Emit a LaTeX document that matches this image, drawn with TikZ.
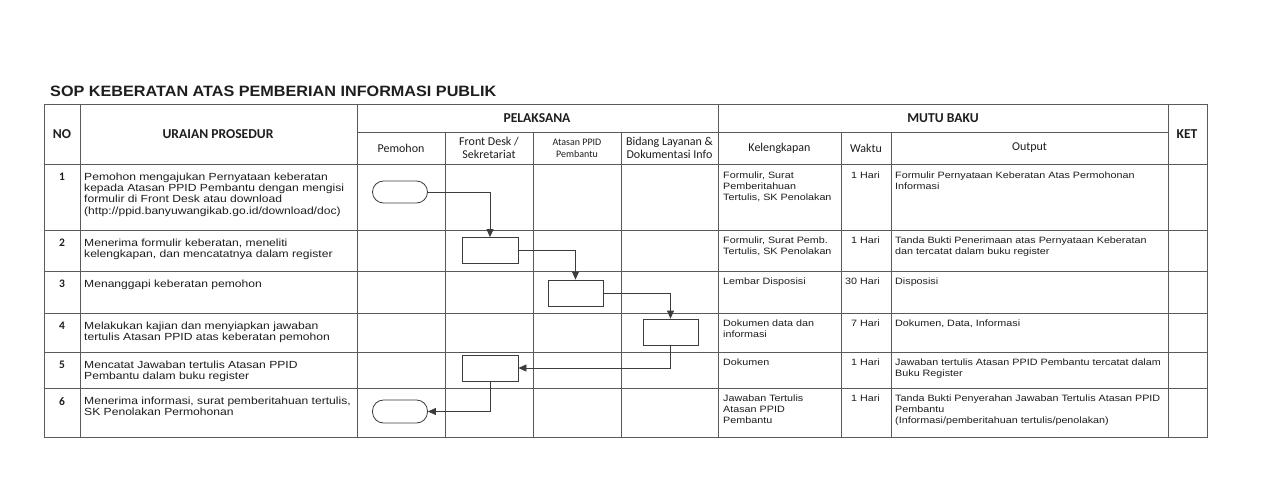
\documentclass[tikz,border=0pt]{standalone}
\usepackage{fontspec}
\setmainfont{Liberation Sans}
\newfontfamily\bodyf[FakeStretch=1.17]{Liberation Sans}
\newfontfamily\titlef[FakeStretch=1.08]{Liberation Sans}
\newfontfamily\headf{Carlito}
\usetikzlibrary{arrows.meta}
\definecolor{ink}{HTML}{1E1E1E}
\definecolor{rule}{HTML}{5A5A5A}
\definecolor{flowc}{HTML}{3C3C3C}
\begin{document}
\begin{tikzpicture}[x=1pt,y=-1pt,
  tline/.style={draw=rule, line width=0.9pt},
  body/.style={anchor=north west, inner sep=0pt, align=left, text=ink,
    font=\bodyf\fontsize{10.35}{11.1}\selectfont},
  small/.style={anchor=north west, inner sep=0pt, align=left, text=ink,
    font=\bodyf\fontsize{9.2}{11}\selectfont},
  waktu/.style={anchor=north east, inner sep=0pt, align=right, text=ink,
    font=\bodyf\fontsize{9.2}{11}\selectfont},
  num/.style={anchor=north, inner sep=0pt, text=ink,
    font=\headf\bfseries\fontsize{11.5}{12}\selectfont},
  hbold/.style={inner sep=0pt, text=ink, align=center,
    font=\headf\bfseries\fontsize{13.6}{14}\selectfont},
  hreg/.style={inner sep=0pt, text=ink, align=center,
    font=\headf\fontsize{12}{13.5}\selectfont},
  hsmall/.style={inner sep=0pt, text=ink, align=center,
    font=\headf\fontsize{10}{12}\selectfont},
  procbox/.style={draw=flowc, line width=0.8pt, rectangle, inner sep=0pt,
    minimum width=56pt, minimum height=26pt},
  termbox/.style={draw=flowc, line width=0.8pt, rectangle, rounded corners=11pt,
    inner sep=0pt, minimum width=55pt, minimum height=22pt},
  flow/.style={draw=flowc, line width=0.8pt, -{Triangle[length=8pt,width=7pt]}}
]
\fill[white] (0,0) rectangle (1280,485);
\useasboundingbox (0,0) rectangle (1280,485);

% title
\node[anchor=base west, inner sep=0pt, text=ink, font=\titlef\bfseries\fontsize{15}{16}\selectfont]
  (title) at (50,96) {SOP KEBERATAN ATAS PEMBERIAN INFORMASI PUBLIK};

% table grid
\draw[tline] (44,104) rectangle (1207,437);
\draw[tline] (357,132) -- (1168,132);
\foreach \y in {164,230,271,313,352,388} \draw[tline] (44,\y) -- (1207,\y);
\foreach \x in {80,357,718,1168} \draw[tline] (\x,104) -- (\x,437);
\foreach \x in {445,533,621,841,891} \draw[tline] (\x,132) -- (\x,437);

% header
\node[hbold] (hno) at (62,134) {NO};
\node[hbold] (hur) at (218,134) {URAIAN PROSEDUR};
\node[hbold] (hpel) at (537,118) {PELAKSANA};
\node[hbold] (hmutu) at (943,118) {MUTU BAKU};
\node[hbold] (hket) at (1187,134) {KET};
\node[hreg] (hpem) at (401,148) {Pemohon};
\node[hreg] (hfd) at (489,148) {Front Desk /\\Sekretariat};
\node[hsmall] (hat) at (577,148) {Atasan PPID\\Pembantu};
\node[hreg] (hbid) at (669.5,148) {Bidang Layanan \&\\Dokumentasi Info};
\node[hreg] (hkel) at (779.5,148) {Kelengkapan};
\node[hreg] (hwak) at (866,148) {Waktu};
\node[hreg] (hout) at (1029.5,148) {Output};

% numbers
\node[num] (n1) at (62,173) {1};
\node[num] (n2) at (62,239) {2};
\node[num] (n3) at (62,280) {3};
\node[num] (n4) at (62,322) {4};
\node[num] (n5) at (62,361) {5};
\node[num] (n6) at (62,397) {6};

% procedure text
\node[body] (t1) at (84,173) {Pemohon mengajukan Pernyataan keberatan\\kepada Atasan PPID Pembantu dengan mengisi\\formulir di Front Desk atau download\\(http://ppid.banyuwangikab.go.id/download/doc)};
\node[body] (t2) at (84,239) {Menerima formulir keberatan, meneliti\\kelengkapan, dan mencatatnya dalam register};
\node[body] (t3) at (84,280) {Menanggapi keberatan pemohon};
\node[body] (t4) at (84,322) {Melakukan kajian dan menyiapkan jawaban\\tertulis Atasan PPID atas keberatan pemohon};
\node[body] (t5) at (84,361) {Mencatat Jawaban tertulis Atasan PPID\\Pembantu dalam buku register};
\node[body] (t6) at (84,397) {Menerima informasi, surat pemberitahuan tertulis,\\SK Penolakan Permohonan};

% kelengkapan
\node[small] (k1) at (723,172) {Formulir, Surat\\Pemberitahuan\\Tertulis, SK Penolakan};
\node[small] (k2) at (723,237) {Formulir, Surat Pemb.\\Tertulis, SK Penolakan};
\node[small] (k3) at (723,278) {Lembar Disposisi};
\node[small] (k4) at (723,320) {Dokumen data dan\\informasi};
\node[small] (k5) at (723,359) {Dokumen};
\node[small] (k6) at (723,395) {Jawaban Tertulis\\Atasan PPID\\Pembantu};

% waktu
\node[waktu] (w1) at (880,172) {1 Hari};
\node[waktu] (w2) at (880,237) {1 Hari};
\node[waktu] (w3) at (880,278) {30 Hari};
\node[waktu] (w4) at (880,320) {7 Hari};
\node[waktu] (w5) at (880,359) {1 Hari};
\node[waktu] (w6) at (880,395) {1 Hari};

% output
\node[small] (o1) at (895,172) {Formulir Pernyataan Keberatan Atas Permohonan\\Informasi};
\node[small] (o2) at (895,237) {Tanda Bukti Penerimaan atas Pernyataan Keberatan\\dan tercatat dalam buku register};
\node[small] (o3) at (895,278) {Disposisi};
\node[small] (o4) at (895,320) {Dokumen, Data, Informasi};
\node[small] (o5) at (895,359) {Jawaban tertulis Atasan PPID Pembantu tercatat dalam\\Buku Register};
\node[small] (o6) at (895,395) {Tanda Bukti Penyerahan Jawaban Tertulis Atasan PPID\\Pembantu\\(Informasi/pemberitahuan tertulis/penolakan)};

% flow shapes
\node[termbox] (s1) at (400,192) {};
\node[procbox] (b2) at (490,250.5) {};
\node[procbox, minimum width=55pt] (b3) at (575.5,293) {};
\node[procbox, minimum width=55pt] (b4) at (670.5,332) {};
\node[procbox] (b5) at (490,368) {};
\node[termbox, minimum height=23pt] (s6) at (400,411.5) {};

% connectors
\draw[flow] (s1.east) -| (b2.north);
\draw[flow] (b2.east) -| (b3.north);
\draw[flow] (b3.east) -| (b4.north);
\draw[flow] (b4.south) |- (b5.east);
\draw[flow] (b5.south) |- (s6.east);
\end{tikzpicture}
\end{document}
